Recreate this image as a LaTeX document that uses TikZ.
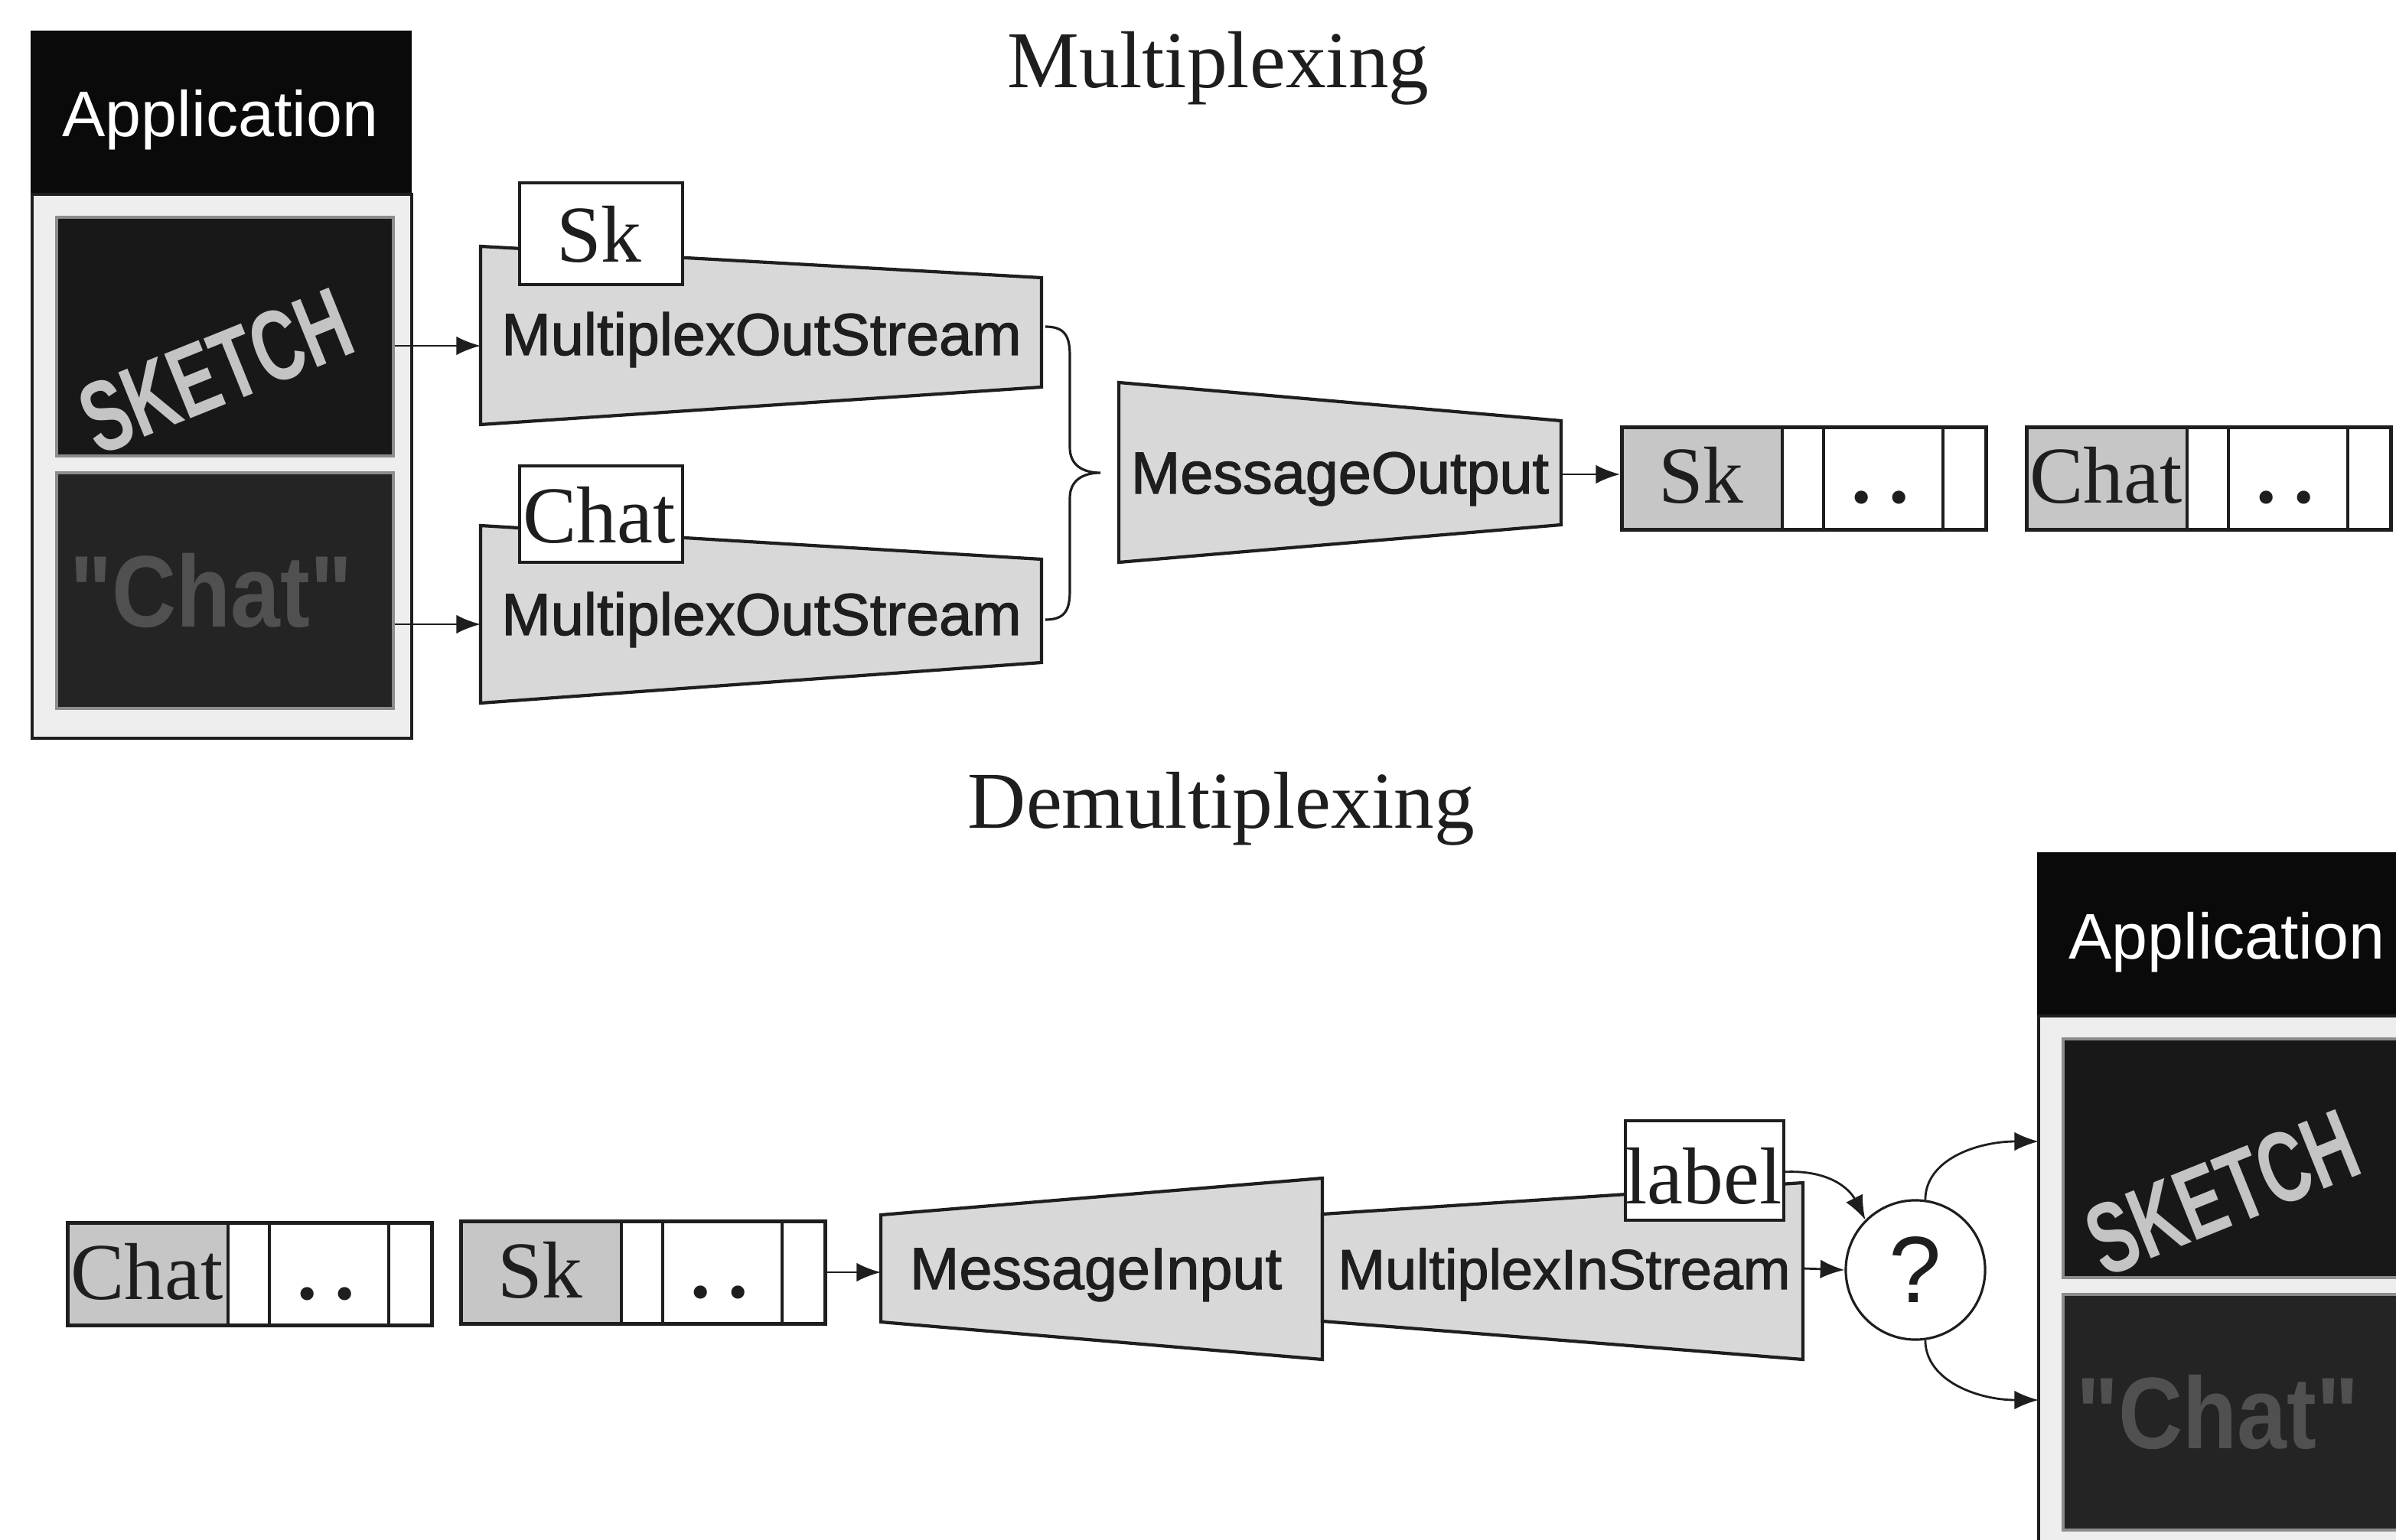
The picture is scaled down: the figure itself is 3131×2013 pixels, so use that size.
\documentclass[tikz,border=0pt]{standalone}
\usepackage{fontspec}
\usepackage{graphicx}
\setmainfont{Liberation Serif}
\setsansfont{Liberation Sans}
% slightly heavier sans for class names, and a face without TeX quote ligatures
\newfontfamily\classfont{Liberation Sans}[RawFeature={embolden=1.6}]
\newfontfamily\screenfont{Liberation Sans}
\usetikzlibrary{arrows.meta,calc}

\definecolor{ink}{HTML}{1E1E1E}
\definecolor{headblack}{HTML}{0A0A0A}
\definecolor{funnel}{HTML}{D8D8D8}
\definecolor{tagcell}{HTML}{C6C6C6}
\definecolor{screenA}{HTML}{181818}
\definecolor{screenB}{HTML}{242424}
\definecolor{screenedge}{HTML}{8C8C8C}
\definecolor{paneltone}{HTML}{EEEEEE}
\definecolor{sketchgray}{HTML}{C4C4C4}
\definecolor{chatgray}{HTML}{505050}

\tikzset{
  funnelshape/.style={draw=ink, line width=1.2pt, fill=funnel, line join=miter},
  clsname/.style={font=\classfont\fontsize{22}{26}\selectfont, anchor=base, inner sep=0pt, text=ink},
  serifl/.style={font=\fontsize{30}{36}\selectfont, anchor=base, inner sep=0pt, text=ink},
  tagbox/.style={draw=ink, line width=1.1pt, fill=white, anchor=north west, inner sep=0pt},
  queueframe/.style={draw=ink, line width=1.4pt, anchor=north west, inner sep=0pt,
                     minimum width=4.76cm, minimum height=1.34cm},
  cellline/.style={draw=ink, line width=0.9pt},
  arr/.style={draw=ink, line width=0.8pt, -{Latex[length=9pt,width=7pt]}},
  screenbox/.style={draw=screenedge, line width=1pt, anchor=north west, inner sep=0pt,
                    minimum width=4.4cm},
}

% Application window: #1 = left x, #2 = top y, #3 = name prefix
\newcommand\appwindow[3]{%
  \begin{scope}[shift={(#1,#2)}]
    \node[fill=headblack, draw=headblack, anchor=north west, inner sep=0pt,
          minimum width=4.96cm, minimum height=2.12cm] (#3head) at (0,0) {};
    \node[fill=paneltone, draw=ink, line width=1pt, anchor=north west, inner sep=0pt,
          minimum width=4.96cm, minimum height=7.11cm] (#3panel) at (0,212) {};
    \node[font=\sffamily\fontsize{24}{28}\selectfont, text=white, anchor=base,
          inner sep=0pt] (#3title) at (248,139) {Application};
    \node[screenbox, fill=screenA, minimum height=3.12cm] (#3sk) at (32,242) {};
    \node[screenbox, fill=screenB, minimum height=3.08cm] (#3chat) at (32,576) {};
    \node[rotate=22, text=sketchgray, inner sep=0pt,
          font=\sffamily\bfseries\fontsize{30}{30}\selectfont] (#3sktext) at (242,445)
          {\scalebox{0.85}[1.25]{SKETCH}};
    \node[text=chatgray, inner sep=0pt,
          font=\screenfont\bfseries\fontsize{36}{40}\selectfont] (#3chattext) at (236,732)
          {\scalebox{0.92}[1.05]{"Chat"}};
  \end{scope}}

% Message queue: #1 = left x, #2 = top y, #3 = tag text, #4 = name
\newcommand\tagqueue[4]{%
  \begin{scope}[shift={(#1,#2)}]
    \fill[tagcell] (0,0) rectangle (212,134);
    \draw[cellline] (212,0) -- (212,134) (266,0) -- (266,134) (422,0) -- (422,134);
    \node[queueframe] (#4) at (0,0) {};
    \node[serifl] (#4tag) at (106,102) {#3};
    \node[serifl] (#4dots) at (340,102) {\textbf{.\hspace{0.22em}.}};
  \end{scope}}

\begin{document}
\begin{tikzpicture}[x=0.01cm, y=-0.01cm]
  \useasboundingbox (0,0) rectangle (3131,2013);
  \fill[white] (0,0) rectangle (3131,2013);

  % ---------- titles ----------
  \node[serifl] (mtitle) at (1592,115) {Multiplexing};
  \node[serifl] (dtitle) at (1596,1082) {Demultiplexing};

  % ---------- multiplexing ----------
  \appwindow{40}{40}{appA}

  \coordinate (f1a) at (628,322);  \coordinate (f1b) at (1361,363);
  \coordinate (f1c) at (1361,506); \coordinate (f1d) at (628,555);
  \draw[funnelshape] (f1a) -- (f1b) -- (f1c) -- (f1d) -- cycle;
  \node[clsname] (mosA) at (995,464) {MultiplexOutStream};
  \node[tagbox, minimum width=2.13cm, minimum height=1.33cm] (tagSk) at (677,237) {};
  \node[serifl] (tagSkt) at (783,343) {Sk};

  \coordinate (f2a) at (628,687);  \coordinate (f2b) at (1361,731);
  \coordinate (f2c) at (1361,866); \coordinate (f2d) at (628,919);
  \draw[funnelshape] (f2a) -- (f2b) -- (f2c) -- (f2d) -- cycle;
  \node[clsname] (mosB) at (995,830) {MultiplexOutStream};
  \node[tagbox, minimum width=2.13cm, minimum height=1.26cm] (tagChat) at (677,607) {};
  \node[serifl] (tagChatt) at (783,710) {Chat};

  \coordinate (f1in) at (628,452);
  \coordinate (f2in) at (628,816);
  \draw[arr] (appAsk.east |- f1in) -- (f1in);
  \draw[arr] (appAchat.east |- f2in) -- (f2in);

  % curly brace joining both streams
  \coordinate (brA) at (1366,427);
  \coordinate (brB) at (1366,810);
  \coordinate (brTip) at (1438,618);
  \draw[ink, line width=0.9pt]
    (brA) .. controls (1392,427) and (1398,440) .. (1398,465)
    -- (1398,585) .. controls (1398,608) and (1415,618) .. (brTip)
    .. controls (1415,618) and (1398,628) .. (1398,651)
    -- (1398,772) .. controls (1398,797) and (1392,810) .. (brB);

  \coordinate (moa) at (1462,500);  \coordinate (mob) at (2040,550);
  \coordinate (moc) at (2040,686);  \coordinate (mod) at (1462,735);
  \draw[funnelshape] (moa) -- (mob) -- (moc) -- (mod) -- cycle;
  \node[clsname] (msgOut) at (1751,645) {MessageOutput};

  \tagqueue{2117}{556}{Sk}{qSk}
  \tagqueue{2646}{556}{Chat}{qChat}

  \coordinate (moOut) at (2040,620);
  \draw[arr] (moOut) -- (qSk.west |- moOut);

  % ---------- demultiplexing ----------
  \tagqueue{86}{1596}{Chat}{qInChat}
  \tagqueue{600}{1594}{Sk}{qInSk}

  \coordinate (mia) at (1151,1588); \coordinate (mib) at (1728,1540);
  \coordinate (mic) at (1728,1777); \coordinate (mid) at (1151,1728);
  \draw[funnelshape] (mia) -- (mib) -- (mic) -- (mid) -- cycle;
  \node[clsname] (msgIn) at (1432,1685) {MessageInput};

  \coordinate (mina) at (1728,1587); \coordinate (minb) at (2356,1546);
  \coordinate (minc) at (2356,1777); \coordinate (mind) at (1728,1727);
  \draw[funnelshape] (mina) -- (minb) -- (minc) -- (mind) -- cycle;
  \node[clsname, font=\classfont\fontsize{21}{26}\selectfont] (misA) at (2044,1685) {MultiplexInStream};

  \node[tagbox, minimum width=2.07cm, minimum height=1.30cm] (tagLabel) at (2122,1463) {};
  \node[serifl] (tagLabelt) at (2226,1573) {label};

  \coordinate (miIn) at (1151,1663);
  \draw[arr] (qInSk.east |- miIn) -- (miIn);

  \node[circle, draw=ink, line width=0.9pt, fill=white, minimum size=1.82cm, inner sep=0pt,
        font=\sffamily\fontsize{35}{40}\selectfont, text=ink] (choice) at (2503,1660) {?};

  \coordinate (misOut) at (2356,1658);
  \draw[arr] (misOut) -- (choice.west);
  \coordinate (labOut) at (2329,1532);
  \draw[arr] (labOut) .. controls (2392,1528) and (2418,1556) .. (choice.135);

  \begin{scope}
    \clip (0,0) rectangle (3131,2013);
    \appwindow{2662}{1114}{appB}
  \end{scope}

  \coordinate (toSk) at (2664,1492);
  \coordinate (toChat) at (2664,1830);
  \draw[arr] (choice.82) .. controls (2516,1515) and (2585,1492) .. (toSk);
  \draw[arr] (choice.-82) .. controls (2516,1805) and (2585,1830) .. (toChat);
\end{tikzpicture}
\end{document}
